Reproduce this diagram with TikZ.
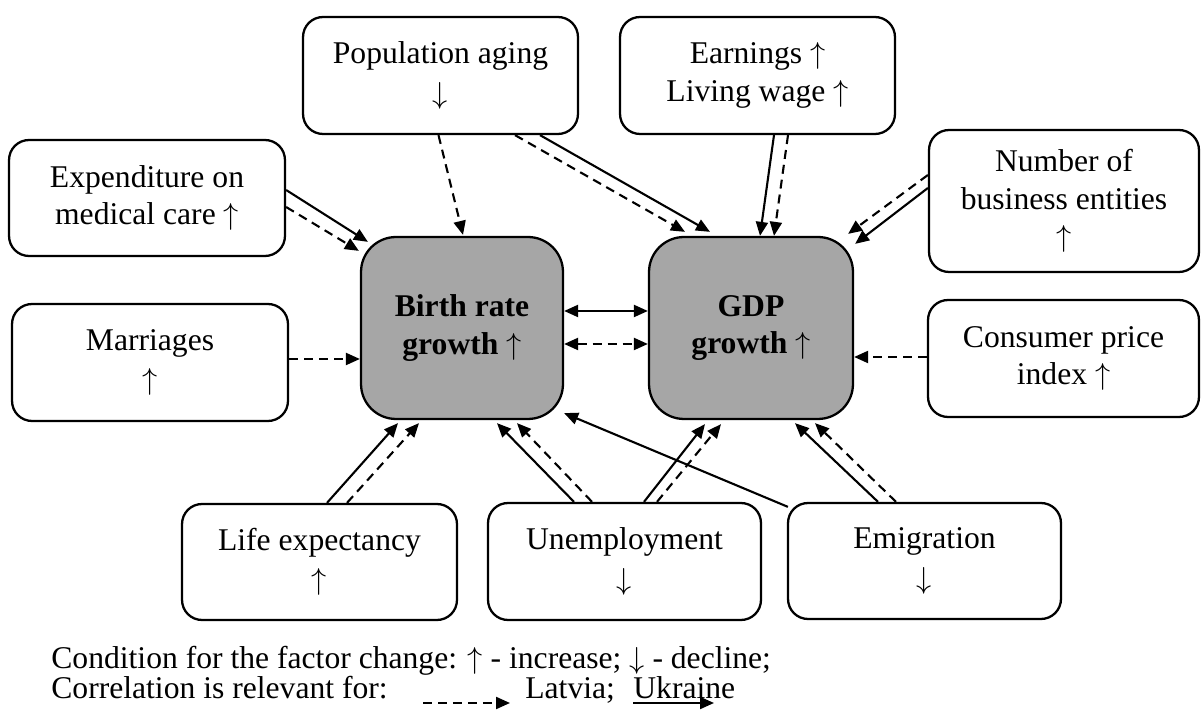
\documentclass[tikz,border=0pt]{standalone}
\usepackage{fontspec}
\setmainfont{Liberation Serif}
\usetikzlibrary{arrows.meta,calc}
\definecolor{corefill}{HTML}{A6A6A6}
\newcommand{\up}{$\uparrow$}
\newcommand{\dn}{$\downarrow$}
\begin{document}
\begin{tikzpicture}[x=0.02cm,y=-0.02cm,
  >={Triangle[length=0.28cm,width=0.24cm]},
  font=\fontsize{18}{21.3}\selectfont,
  factor/.style={draw,line width=1.3pt,rounded corners=0.4cm,align=center,inner sep=0pt,fill=white},
  core/.style={draw,line width=1.3pt,rounded corners=0.7cm,align=center,inner sep=0pt,fill=corefill,font=\fontsize{18}{21.3}\selectfont\bfseries},
  sol/.style={line width=1.2pt,->},
  dsh/.style={sol,dash pattern=on 0.18cm off 0.12cm},
  legtext/.style={anchor=base west,inner sep=0pt},
]
\useasboundingbox (0,0) rectangle (1201,715);

% factor boxes
\node[factor,minimum width=5.5cm,minimum height=2.34cm] (pop) at (440.5,75.5) {Population aging\\[0.04cm]\dn};
\node[factor,minimum width=5.5cm,minimum height=2.34cm] (earn) at (757.5,75.5) {Earnings \up\\Living wage \up};
\node[factor,minimum width=5.52cm,minimum height=2.32cm] (exp) at (147,198) {Expenditure on\\medical care \up};
\node[factor,minimum width=5.4cm,minimum height=2.84cm] (num) at (1064,201) {Number of\\business entities\\\up};
\node[factor,minimum width=5.52cm,minimum height=2.34cm] (mar) at (150,362.5) {Marriages\\[0.04cm]\up};
\node[factor,minimum width=5.42cm,minimum height=2.34cm] (cpi) at (1063.5,358.5) {Consumer price\\index \up};
\node[factor,minimum width=5.5cm,minimum height=2.32cm] (life) at (319.5,562) {Life expectancy\\[0.04cm]\up};
\node[factor,minimum width=5.46cm,minimum height=2.34cm] (unemp) at (624.5,561.5) {Unemployment\\[0.04cm]\dn};
\node[factor,minimum width=5.46cm,minimum height=2.32cm] (emig) at (924.5,561) {Emigration\\[0.04cm]\dn};

% core boxes
\node[core,minimum width=4.04cm,minimum height=3.64cm] (birth) at (462,328) {Birth rate\\growth \up};
\node[core,minimum width=4.08cm,minimum height=3.64cm] (gdp) at (751,328) {GDP\\growth \up};

% connectors from the top
\draw[dsh] ($(pop.south)+(-2,0)$) -- ($(birth.north)+(1,-1)$);
\draw[dsh] ($(pop.south)+(74.5,0)$) -- ($(gdp.north)+(-66,-4)$);
\draw[sol] ($(pop.south)+(99.5,0)$) -- ($(gdp.north)+(-41,-4)$);
\draw[sol] ($(earn.south)+(16.5,0)$) -- ($(gdp.north)+(9,0)$);
\draw[dsh] ($(earn.south)+(30.5,0)$) -- ($(gdp.north)+(23,0)$);
\draw[dsh] ($(num.west)+(0,-26)$) -- ($(gdp.north east)+(-6,-2)$);
\draw[sol] ($(num.west)+(0,-13)$) -- ($(gdp.north east)+(1,8)$);
\draw[sol] ($(exp.east)+(0,-8)$) -- ($(birth.north west)+(8,6)$);
\draw[dsh] ($(exp.east)+(0,9)$) -- ($(birth.north west)+(-1,15)$);

% connectors from the sides
\draw[dsh] ($(mar.east)+(0,-3.5)$) -- ($(birth.west)+(0,31)$);
\draw[dsh] ($(cpi.west)+(0,-1.5)$) -- ($(gdp.east)+(0,29)$);
\draw[sol,<->] ($(birth.east)+(0,-17)$) -- ($(gdp.west)+(0,-17)$);
\draw[dsh,<->] ($(birth.east)+(0,16)$) -- ($(gdp.west)+(0,16)$);

% connectors from the bottom
\draw[sol] ($(life.north)+(7.5,0)$) -- ($(birth.south)+(-64,3)$);
\draw[dsh] ($(life.north)+(27.5,0)$) -- ($(birth.south)+(-43,3)$);
\draw[sol] ($(unemp.north)+(-50.5,0)$) -- ($(birth.south)+(35,3)$);
\draw[dsh] ($(unemp.north)+(-32.5,0)$) -- ($(birth.south)+(55,3)$);
\draw[sol] ($(unemp.north)+(19.5,0)$) -- ($(gdp.south)+(-46,4)$);
\draw[dsh] ($(unemp.north)+(32.5,0)$) -- ($(gdp.south)+(-30,4)$);
\draw[sol] ($(emig.north)+(-46.5,0)$) -- ($(gdp.south)+(44,3)$);
\draw[dsh] ($(emig.north)+(-28.5,0)$) -- ($(gdp.south)+(64,3)$);
\draw[sol] ($(emig.north west)+(1,5)$) -- ($(birth.south east)+(0,-7)$);

% legend
\node[legtext] (leg1) at (51,669) {Condition for the factor change: \up{} - increase; \dn{} - decline;};
\node[legtext] (leg2) at (51,699) {Correlation is relevant for:};
\coordinate (ld1) at (423,703);
\coordinate (ld2) at (510,703);
\draw[dsh] (ld1) -- (ld2);
\node[legtext] (lat) at (525,699) {Latvia;};
\node[legtext] (ukr) at (633,699) {Ukraine};
\coordinate (ls1) at (633,703);
\coordinate (ls2) at (714,703);
\draw[sol] (ls1) -- (ls2);
\end{tikzpicture}
\end{document}
